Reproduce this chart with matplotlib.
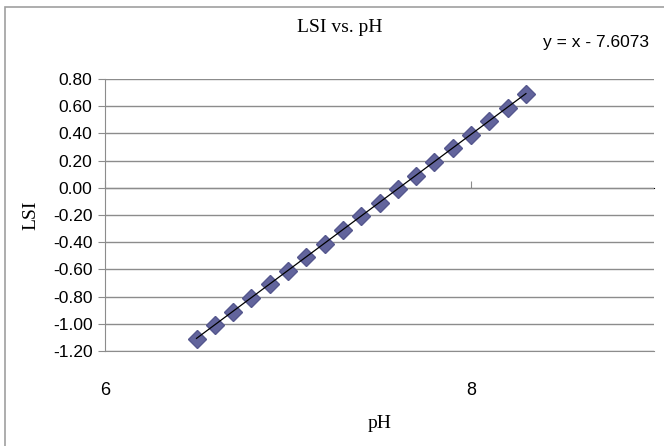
import matplotlib.pyplot as plt
from matplotlib.patches import Rectangle

# LSI readings against pH
ph = [6.5, 6.6, 6.7, 6.8, 6.9, 7.0, 7.1, 7.2, 7.3, 7.4,
      7.5, 7.6, 7.7, 7.8, 7.9, 8.0, 8.1, 8.2, 8.3]
lsi = [-1.11, -1.01, -0.91, -0.81, -0.71, -0.61, -0.51, -0.41, -0.31, -0.21,
       -0.11, -0.01, 0.09, 0.19, 0.29, 0.39, 0.49, 0.59, 0.69]

# linear trendline
slope = 1.0
intercept = -7.6073
eq_text = 'y = x - 7.6073'

yticks = [-1.2, -1.0, -0.8, -0.6, -0.4, -0.2, 0.0, 0.2, 0.4, 0.6, 0.8]
xticks = [6, 8]

W, H = 664, 446
fig = plt.figure(figsize=(W / 100, H / 100), dpi=100)
ax = fig.add_axes([105 / W, (H - 351) / H, (654 - 105) / W, (351 - 79) / H])

grey = '#8c8c8c'
serif = ['Liberation Serif', 'DejaVu Serif']
sans = ['Liberation Sans', 'DejaVu Sans']

# outer chart frame (only top and left edges show)
fig.patches.append(Rectangle((5 / W, -0.1), 1.2, (H - 7) / H + 0.1,
                             transform=fig.transFigure, fill=False,
                             edgecolor='#a0a0a0', linewidth=1.2))

ax.set_xlim(6, 9)
ax.set_ylim(-1.2, 0.8)
ax.set_yticks(yticks)
ax.set_yticklabels(['%.2f' % v for v in yticks], family=sans, fontsize=12.5)
ax.set_xticks(xticks)
ax.set_xticklabels([str(v) for v in xticks], family=sans, fontsize=13)
ax.tick_params(axis='y', direction='out', length=5, color=grey, pad=4)
ax.tick_params(axis='x', length=0, pad=22)
ax.yaxis.grid(True, color=grey, linewidth=1)
ax.set_axisbelow(True)

for s in ['top', 'right']:
    ax.spines[s].set_visible(False)
ax.spines['left'].set_color(grey)
ax.spines['bottom'].set_color(grey)

# horizontal axis crosses at LSI = 0
sec = ax.secondary_xaxis(0.6)
sec.set_xticks(xticks)
sec.set_xticklabels([])
sec.tick_params(direction='out', length=5, color=grey)
sec.spines['bottom'].set_visible(False)

ax.plot(ph, lsi, linestyle='none', marker='D', markersize=9,
        markerfacecolor='#62649c', markeredgecolor='#55578e', zorder=3)
fit_x = [ph[0], ph[-1]]
fit_y = [slope * v + intercept for v in fit_x]
ax.plot(fit_x, fit_y, color='black', linewidth=0.9, zorder=4)

ax.set_xlabel('pH', family=serif, fontsize=14, labelpad=12)
ax.set_ylabel('LSI', family=serif, fontsize=14, labelpad=10)

fig.text(340 / W, 1 - 27 / H, 'LSI vs. pH', family=serif, fontsize=14,
         ha='center', va='center')
fig.text(596 / W, 1 - 42 / H, eq_text, family=sans, fontsize=12.5,
         ha='center', va='center')

fig.savefig('out.png', dpi=100)
